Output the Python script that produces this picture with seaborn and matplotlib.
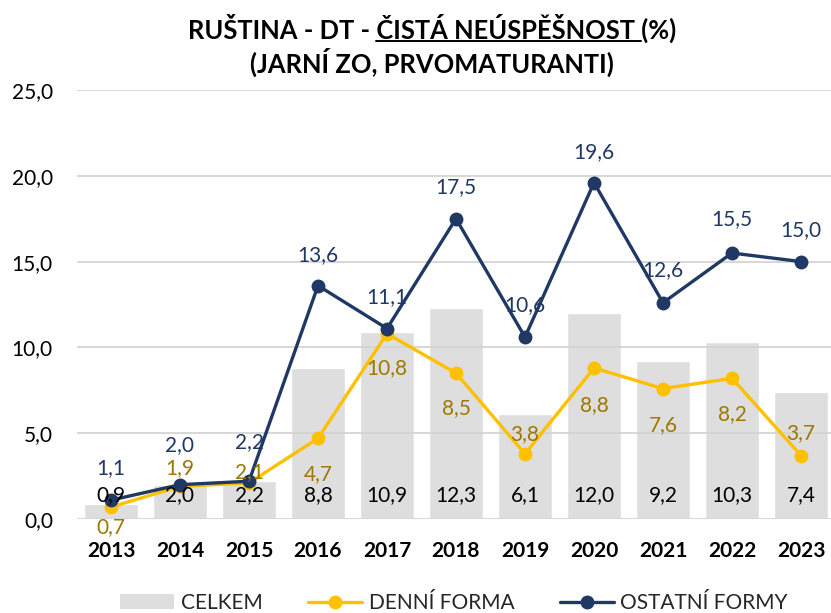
import matplotlib
matplotlib.use("Agg")
import matplotlib.pyplot as plt
import seaborn as sns
import pandas as pd
from matplotlib.lines import Line2D
from matplotlib.patches import Patch

# --- data -----------------------------------------------------------------
years = ["2013", "2014", "2015", "2016", "2017", "2018",
         "2019", "2020", "2021", "2022", "2023"]
celkem = [0.9, 2.0, 2.2, 8.8, 10.9, 12.3, 6.1, 12.0, 9.2, 10.3, 7.4]
denni = [0.7, 1.9, 2.1, 4.7, 10.8, 8.5, 3.8, 8.8, 7.6, 8.2, 3.7]
ostatni = [1.1, 2.0, 2.2, 13.6, 11.1, 17.5, 10.6, 19.6, 12.6, 15.5, 15.0]
y_ticks = [0, 5, 10, 15, 20, 25]

# label placement (pixel offsets from the marker, + is up)
denni_label_dy = [-20, 18, 11, -36, -34, -35, 20, -37, -37, -36, 22]
ostatni_label_dy = [32, 40, 39, 31, 31, 32, 32, 31, 33, 34, 32]

# --- style ----------------------------------------------------------------
GREY = "#DEDEDE"
GRID = "#D4D4D4"
YELLOW = "#FFC000"
NAVY = "#1F3864"
YELLOW_TXT = "#9C7800"
NAVY_TXT = "#203864"

sns.set_theme(style="white")
plt.rcParams["font.family"] = ["Lato", "DejaVu Sans"]

W, H = 831, 613
fig = plt.figure(figsize=(W / 100, H / 100), dpi=100)
ax = fig.add_axes([76.5 / W, 1 - 519 / H, (W - 76.5) / W, (519 - 90) / H])

df = pd.DataFrame({"rok": years, "celkem": celkem,
                   "denni": denni, "ostatni": ostatni})

sns.barplot(data=df, x="rok", y="celkem", color=GREY, saturation=1,
            width=0.77, ax=ax)
sns.pointplot(data=df, x="rok", y="denni", color=YELLOW, markers="o",
              markersize=10, linewidth=2.4, ax=ax)
sns.pointplot(data=df, x="rok", y="ostatni", color=NAVY, markers="o",
              markersize=10, linewidth=2.4, ax=ax)
for ln in ax.lines:
    ln.set_zorder(3)
    ln.set_markeredgewidth(0)
ax.lines[-1].set_zorder(4)

ax.set_ylim(0, 25)
ax.set_xlim(-0.5, -0.5 + (W - 76.5) / 69)
ax.set_yticks(y_ticks)
ax.set_yticklabels([f"{t:.1f}".replace(".", ",") for t in y_ticks])
ax.set_axisbelow("line")
ax.yaxis.grid(True, color=GRID, linewidth=1.3)
ax.xaxis.grid(False)
for s in ax.spines.values():
    s.set_visible(False)
ax.tick_params(axis="both", length=0)
ax.tick_params(axis="y", labelsize=15, labelcolor="#000000", pad=17)
ax.tick_params(axis="x", labelsize=15, labelcolor="#000000", pad=16)
for lab in ax.get_xticklabels():
    lab.set_fontweight("bold")
ax.set_xlabel("")
ax.set_ylabel("")


def fmt(v):
    return f"{v:.1f}".replace(".", ",")


for i, v in enumerate(celkem):
    ax.annotate(fmt(v), (i, 0), xytext=(0, 24), textcoords="offset pixels",
                ha="center", va="center", fontsize=15, color="#000000",
                zorder=5)
for i, v in enumerate(denni):
    ax.annotate(fmt(v), (i, v), xytext=(0, denni_label_dy[i]),
                textcoords="offset pixels", ha="center", va="center",
                fontsize=15, color=YELLOW_TXT, zorder=5)
for i, v in enumerate(ostatni):
    ax.annotate(fmt(v), (i, v), xytext=(0, ostatni_label_dy[i]),
                textcoords="offset pixels", ha="center", va="center",
                fontsize=15, color=NAVY_TXT, zorder=5)

# --- title with underlined middle part --------------------------------------
part_a = "RUŠTINA - DT - "
part_b = "ČISTÁ NEÚSPĚŠNOST "
part_c = "(%)"
title_kw = dict(fontsize=18.4, fontweight="bold", color="#000000")
cx = 432 / W
line1 = fig.text(cx, 1 - 28 / H, part_a + part_b + part_c,
                 ha="center", va="center", **title_kw)
fig.text(cx, 1 - 62 / H, "(JARNÍ ZO, PRVOMATURANTI)",
         ha="center", va="center", **title_kw)

fig.canvas.draw()
renderer = fig.canvas.get_renderer()


def text_width(s):
    t = fig.text(0, 0, s + "|", **title_kw)
    bar = fig.text(0, 0, "|", **title_kw)
    w = (t.get_window_extent(renderer).width
         - bar.get_window_extent(renderer).width)
    t.remove()
    bar.remove()
    return w


bb = line1.get_window_extent(renderer)
x0 = bb.x0 + text_width(part_a)
x1 = x0 + text_width(part_b)
uy = bb.y0 + 2
fig.add_artist(Line2D([x0 / W, x1 / W], [uy / H, uy / H],
                      transform=fig.transFigure, color="#000000",
                      linewidth=1.4))

# --- legend ---------------------------------------------------------------
handles = [
    Patch(facecolor=GREY, edgecolor="none"),
    Line2D([0], [0], color=YELLOW, linewidth=2.4, marker="o",
           markersize=10, markeredgewidth=0),
    Line2D([0], [0], color=NAVY, linewidth=2.4, marker="o",
           markersize=10, markeredgewidth=0),
]
fig.legend(handles, ["CELKEM", "DENNÍ FORMA", "OSTATNÍ FORMY"],
           loc="center", bbox_to_anchor=(454 / W, 1 - 603 / H), ncol=3,
           frameon=False, fontsize=15, handlelength=2.6, handleheight=0.7,
           handletextpad=0.3, columnspacing=2.2)

fig.savefig("out.png", dpi=100)
